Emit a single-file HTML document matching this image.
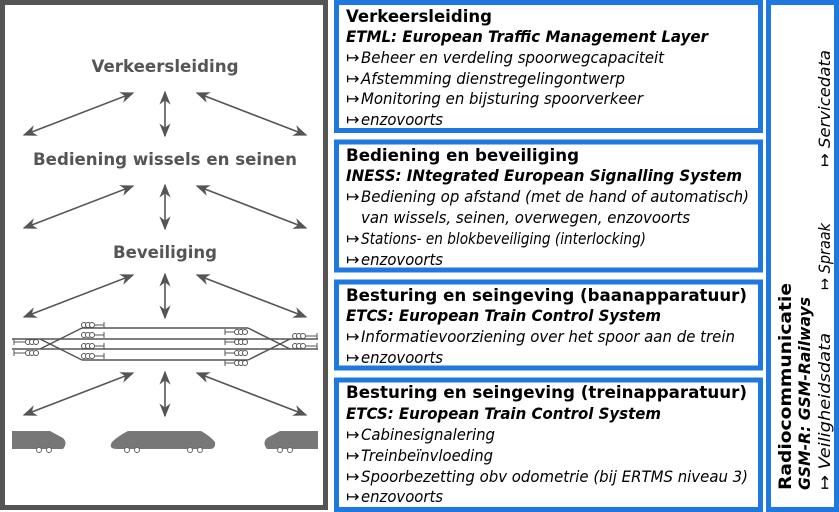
<!DOCTYPE html>
<html><head><meta charset="utf-8"><style>
html,body{margin:0;padding:0;background:#fff;width:839px;height:512px;overflow:hidden}
svg{display:block}
.l{font-family:"DejaVu Sans","Liberation Sans",sans-serif;font-weight:bold;fill:#555;font-size:17px}
.t{font-family:"DejaVu Sans","Liberation Sans",sans-serif;fill:#000}
.b{font-weight:bold;font-size:17px}
.bi{font-weight:bold;font-style:italic;font-size:16px}
.i{font-style:italic;font-size:16px}
</style></head><body>
<svg width="839" height="512" viewBox="0 0 839 512" xmlns="http://www.w3.org/2000/svg">
<defs>
<marker id="ah2" viewBox="0 0 10 10" refX="9" refY="5" markerWidth="14" markerHeight="14" orient="auto-start-reverse" markerUnits="userSpaceOnUse">
<path d="M0,1 L10,5 L0,9 L3,5 z" fill="#555"/></marker>
</defs>
<rect x="2.5" y="2.5" width="323" height="505" fill="#fff" stroke="#555" stroke-width="5"/>
<text class="l" x="165" y="72" text-anchor="middle" textLength="147" lengthAdjust="spacingAndGlyphs">Verkeersleiding</text>
<text class="l" x="165" y="165" text-anchor="middle" textLength="264" lengthAdjust="spacingAndGlyphs">Bediening wissels en seinen</text>
<text class="l" x="165" y="258" text-anchor="middle" textLength="104" lengthAdjust="spacingAndGlyphs">Beveiliging</text>
<g stroke="#555" stroke-width="1.6" fill="none" marker-start="url(#ah2)" marker-end="url(#ah2)">
<line x1="24" y1="135" x2="133" y2="93"/><line x1="165" y1="92" x2="165" y2="136"/><line x1="197" y1="93" x2="306" y2="135"/>
<line x1="24" y1="228" x2="133" y2="186"/><line x1="165" y1="185" x2="165" y2="229"/><line x1="197" y1="186" x2="306" y2="228"/>
<line x1="24" y1="317" x2="133" y2="275"/><line x1="165" y1="274" x2="165" y2="318"/><line x1="197" y1="275" x2="306" y2="317"/>
<line x1="24" y1="415" x2="133" y2="373"/><line x1="165" y1="372" x2="165" y2="416"/><line x1="197" y1="373" x2="306" y2="415"/>
</g>
<g stroke="#555" stroke-width="1.5" fill="none">
<line x1="82" y1="328" x2="248" y2="328"/><line x1="12" y1="339" x2="318" y2="339"/>
<line x1="12" y1="349" x2="318" y2="349"/><line x1="82" y1="360" x2="248" y2="360"/>
<line x1="82" y1="328" x2="40" y2="349"/><line x1="82" y1="360" x2="40" y2="339"/>
<line x1="248" y1="328" x2="290" y2="349"/><line x1="248" y1="360" x2="290" y2="339"/>
</g>
<g stroke="#555" stroke-width="1" fill="#fff">
<g transform="translate(0,342)"><line x1="14" y1="0" x2="26" y2="0"/><line x1="14" y1="-3" x2="14" y2="3"/><circle cx="28" cy="0" r="2.5"/><circle cx="32" cy="0" r="2.5"/><circle cx="36" cy="0" r="2.5"/></g>
<g transform="translate(0,353)"><line x1="14" y1="0" x2="26" y2="0"/><line x1="14" y1="-3" x2="14" y2="3"/><circle cx="28" cy="0" r="2.5"/><circle cx="32" cy="0" r="2.5"/><circle cx="36" cy="0" r="2.5"/></g>
<g transform="translate(0,325)"><circle cx="84" cy="0" r="2.5"/><circle cx="88" cy="0" r="2.5"/><circle cx="92" cy="0" r="2.5"/><line x1="95" y1="0" x2="104" y2="0"/><line x1="104" y1="-3" x2="104" y2="3"/></g>
<g transform="translate(0,335)"><circle cx="84" cy="0" r="2.5"/><circle cx="88" cy="0" r="2.5"/><circle cx="92" cy="0" r="2.5"/><line x1="95" y1="0" x2="104" y2="0"/><line x1="104" y1="-3" x2="104" y2="3"/></g>
<g transform="translate(0,346)"><circle cx="84" cy="0" r="2.5"/><circle cx="88" cy="0" r="2.5"/><circle cx="92" cy="0" r="2.5"/><line x1="95" y1="0" x2="104" y2="0"/><line x1="104" y1="-3" x2="104" y2="3"/></g>
<g transform="translate(0,356)"><circle cx="84" cy="0" r="2.5"/><circle cx="88" cy="0" r="2.5"/><circle cx="92" cy="0" r="2.5"/><line x1="95" y1="0" x2="104" y2="0"/><line x1="104" y1="-3" x2="104" y2="3"/></g>
<g transform="translate(0,332)"><line x1="225" y1="0" x2="235" y2="0"/><line x1="225" y1="-3" x2="225" y2="3"/><circle cx="237" cy="0" r="2.5"/><circle cx="241" cy="0" r="2.5"/><circle cx="245" cy="0" r="2.5"/></g>
<g transform="translate(0,342)"><line x1="225" y1="0" x2="235" y2="0"/><line x1="225" y1="-3" x2="225" y2="3"/><circle cx="237" cy="0" r="2.5"/><circle cx="241" cy="0" r="2.5"/><circle cx="245" cy="0" r="2.5"/></g>
<g transform="translate(0,353)"><line x1="225" y1="0" x2="235" y2="0"/><line x1="225" y1="-3" x2="225" y2="3"/><circle cx="237" cy="0" r="2.5"/><circle cx="241" cy="0" r="2.5"/><circle cx="245" cy="0" r="2.5"/></g>
<g transform="translate(0,363)"><line x1="225" y1="0" x2="235" y2="0"/><line x1="225" y1="-3" x2="225" y2="3"/><circle cx="237" cy="0" r="2.5"/><circle cx="241" cy="0" r="2.5"/><circle cx="245" cy="0" r="2.5"/></g>
<g transform="translate(0,336)"><circle cx="295" cy="0" r="2.5"/><circle cx="299" cy="0" r="2.5"/><circle cx="303" cy="0" r="2.5"/><line x1="306" y1="0" x2="317" y2="0"/><line x1="317" y1="-3" x2="317" y2="3"/></g>
<g transform="translate(0,346)"><circle cx="295" cy="0" r="2.5"/><circle cx="299" cy="0" r="2.5"/><circle cx="303" cy="0" r="2.5"/><line x1="306" y1="0" x2="317" y2="0"/><line x1="317" y1="-3" x2="317" y2="3"/></g>
</g>
<g fill="#777">
<path d="M12,431 L50,431 L63,438 Q68,443 63,449 L12,449 Z"/>
<path d="M128,431 L201,431 Q210,436 215,442 Q216,449 210,449 L117,449 Q108,449 112,442 Q118,436 128,431 Z"/>
<path d="M318,431 L280,431 L267,438 Q262,443 267,449 L318,449 Z"/>
</g>
<g fill="#fff" stroke="#666" stroke-width="1">
<circle cx="39" cy="450" r="2.5"/><circle cx="49" cy="450" r="2.5"/>
<circle cx="127" cy="450" r="2.5"/><circle cx="137" cy="450" r="2.5"/><circle cx="190" cy="450" r="2.5"/><circle cx="200" cy="450" r="2.5"/>
<circle cx="280" cy="450" r="2.5"/><circle cx="290" cy="450" r="2.5"/>
</g>
<g fill="#fff" stroke="#1f77e0" stroke-width="5">
<rect x="336.5" y="2.5" width="424" height="128"/>
<rect x="336.5" y="142" width="424" height="128"/>
<rect x="336.5" y="282" width="424" height="86"/>
<rect x="336.5" y="380" width="424" height="129.5"/>
<rect x="768.5" y="2.5" width="68" height="507"/>
</g>
<g class="t">
<text class="b" x="346" y="22" textLength="146" lengthAdjust="spacingAndGlyphs">Verkeersleiding</text>
<text class="bi" x="346" y="42" textLength="362" lengthAdjust="spacingAndGlyphs">ETML: European Traffic Management Layer</text>
<text class="i" x="346" y="63">↦</text><text class="i" x="361" y="63" textLength="303" lengthAdjust="spacingAndGlyphs">Beheer en verdeling spoorwegcapaciteit</text>
<text class="i" x="346" y="84">↦</text><text class="i" x="361" y="84" textLength="264" lengthAdjust="spacingAndGlyphs">Afstemming dienstregelingontwerp</text>
<text class="i" x="346" y="104">↦</text><text class="i" x="361" y="104" textLength="282" lengthAdjust="spacingAndGlyphs">Monitoring en bijsturing spoorverkeer</text>
<text class="i" x="346" y="125">↦</text><text class="i" x="361" y="125" textLength="82" lengthAdjust="spacingAndGlyphs">enzovoorts</text>

<text class="b" x="346" y="161" textLength="233" lengthAdjust="spacingAndGlyphs">Bediening en beveiliging</text>
<text class="bi" x="346" y="181" textLength="396" lengthAdjust="spacingAndGlyphs">INESS: INtegrated European Signalling System</text>
<text class="i" x="346" y="202">↦</text><text class="i" x="361" y="202" textLength="388" lengthAdjust="spacingAndGlyphs">Bediening op afstand (met de hand of automatisch)</text>
<text class="i" x="361" y="223" textLength="329" lengthAdjust="spacingAndGlyphs">van wissels, seinen, overwegen, enzovoorts</text>
<text class="i" x="346" y="244">↦</text><text class="i" x="361" y="244" textLength="285" lengthAdjust="spacingAndGlyphs">Stations- en blokbeveiliging (interlocking)</text>
<text class="i" x="346" y="265">↦</text><text class="i" x="361" y="265" textLength="82" lengthAdjust="spacingAndGlyphs">enzovoorts</text>

<text class="b" x="346" y="301" textLength="401" lengthAdjust="spacingAndGlyphs">Besturing en seingeving (baanapparatuur)</text>
<text class="bi" x="346" y="321" textLength="315" lengthAdjust="spacingAndGlyphs">ETCS: European Train Control System</text>
<text class="i" x="346" y="342">↦</text><text class="i" x="361" y="342" textLength="374" lengthAdjust="spacingAndGlyphs">Informatievoorziening over het spoor aan de trein</text>
<text class="i" x="346" y="363">↦</text><text class="i" x="361" y="363" textLength="82" lengthAdjust="spacingAndGlyphs">enzovoorts</text>

<text class="b" x="346" y="398" textLength="401" lengthAdjust="spacingAndGlyphs">Besturing en seingeving (treinapparatuur)</text>
<text class="bi" x="346" y="419" textLength="315" lengthAdjust="spacingAndGlyphs">ETCS: European Train Control System</text>
<text class="i" x="346" y="440">↦</text><text class="i" x="361" y="440" textLength="134" lengthAdjust="spacingAndGlyphs">Cabinesignalering</text>
<text class="i" x="346" y="461">↦</text><text class="i" x="361" y="461" textLength="132" lengthAdjust="spacingAndGlyphs">Treinbeïnvloeding</text>
<text class="i" x="346" y="482">↦</text><text class="i" x="361" y="482" textLength="387" lengthAdjust="spacingAndGlyphs">Spoorbezetting obv odometrie (bij ERTMS niveau 3)</text>
<text class="i" x="346" y="502">↦</text><text class="i" x="361" y="502" textLength="82" lengthAdjust="spacingAndGlyphs">enzovoorts</text>

<text class="b" transform="translate(791,490) rotate(-90)" textLength="207" lengthAdjust="spacingAndGlyphs">Radiocommunicatie</text>
<text class="bi" transform="translate(810,490) rotate(-90)" textLength="193" lengthAdjust="spacingAndGlyphs">GSM-R: GSM-Railways</text>
<text class="i" transform="translate(830,490) rotate(-90)" textLength="157" lengthAdjust="spacingAndGlyphs">↦ Veiligheidsdata</text>
<text class="i" transform="translate(830,290) rotate(-90)" textLength="67" lengthAdjust="spacingAndGlyphs">↦ Spraak</text>
<text class="i" transform="translate(830,167) rotate(-90)" textLength="117" lengthAdjust="spacingAndGlyphs">↦ Servicedata</text>
</g>
</svg>
</body></html>
